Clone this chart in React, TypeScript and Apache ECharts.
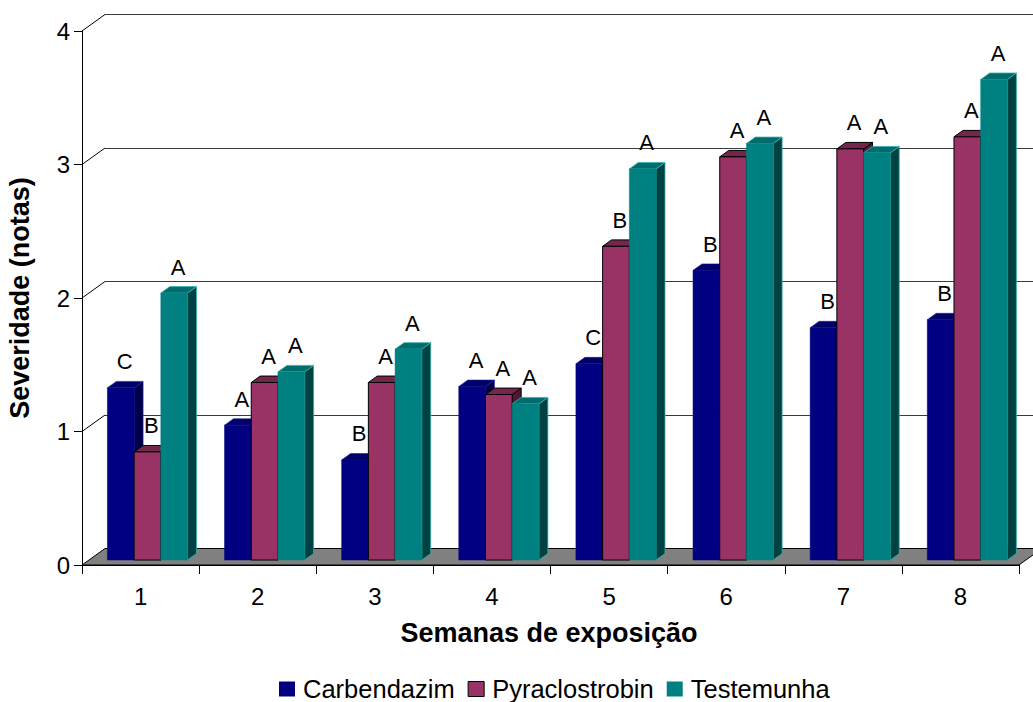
import React, { useEffect, useRef } from "react";
import * as echarts from "echarts";

// Weekly disease severity scores per treatment, with mean-separation letters
const weeks = ["1", "2", "3", "4", "5", "6", "7", "8"];
const carbendazim = [1.29, 1.01, 0.75, 1.3, 1.47, 2.17, 1.74, 1.8];
const pyraclostrobin = [0.81, 1.33, 1.33, 1.24, 2.35, 3.02, 3.08, 3.17];
const testemunha = [2.0, 1.41, 1.58, 1.17, 2.93, 3.12, 3.05, 3.6];
const carbendazimLetters = ["C", "A", "B", "A", "C", "B", "B", "B"];
const pyraclostrobinLetters = ["B", "A", "A", "A", "B", "A", "A", "A"];
const testemunhaLetters = ["A", "A", "A", "A", "A", "A", "A", "A"];
const yTicks = [0, 1, 2, 3, 4];
const seriesNames = ["Carbendazim", "Pyraclostrobin", "Testemunha"];

const FONT = "'Liberation Sans', Arial, Helvetica, sans-serif";

// 3D projection: full depth of the plot box, plane of the bars, bar thickness
const DX = 23;
const DY = -16.5;
const BAR_PLANE = 0.3;
const BAR_DEPTH = 0.39;
const BAR_FRACTION = 0.228;

type Palette = { front: string; top: string; side: string; stroke: string; strokeWidth: number };

const palettes: Palette[] = [
  { front: "#000080", top: "#000068", side: "#00004a", stroke: "#1c1c9a", strokeWidth: 0.6 },
  { front: "#993366", top: "#74264d", side: "#4c1a33", stroke: "#000000", strokeWidth: 1 },
  { front: "#008080", top: "#006c6c", side: "#004242", stroke: "#36b0b0", strokeWidth: 0.8 },
];

function makeBarRenderer(k: number) {
  const pal = palettes[k];
  return (params: any, api: any) => {
    const i = api.value(0);
    const v = api.value(1);
    const letter = api.value(2);
    const top = api.coord([i, v]);
    const base = api.coord([i, 0]);
    const band = api.size([1, 0])[0];
    const w = band * BAR_FRACTION;
    const x0 = top[0] + DX * BAR_PLANE + (k - 1.5) * w;
    const x1 = x0 + w;
    const yt = top[1] + DY * BAR_PLANE;
    const yb = base[1] + DY * BAR_PLANE;
    const bx = DX * BAR_DEPTH;
    const by = DY * BAR_DEPTH;
    return {
      type: "group",
      children: [
        {
          type: "polygon",
          shape: { points: [[x1, yt], [x1 + bx, yt + by], [x1 + bx, yb + by], [x1, yb]] },
          style: { fill: pal.side, stroke: pal.stroke, lineWidth: pal.strokeWidth },
        },
        {
          type: "polygon",
          shape: { points: [[x0, yt], [x1, yt], [x1 + bx, yt + by], [x0 + bx, yt + by]] },
          style: { fill: pal.top, stroke: pal.stroke, lineWidth: pal.strokeWidth },
        },
        {
          type: "rect",
          shape: { x: x0, y: yt, width: w, height: yb - yt },
          style: { fill: pal.front, stroke: k === 1 ? "#000" : pal.front, lineWidth: k === 1 ? 1 : 0.5 },
        },
        {
          type: "text",
          style: {
            text: String(letter),
            x: (x0 + x1) / 2 + 4,
            y: yt - 26,
            align: "center",
            verticalAlign: "middle",
            fontSize: 22,
            fontFamily: FONT,
            fill: "#000",
          },
        },
      ],
    };
  };
}

// Floor slab and the diagonal edges linking the front axis to the back wall
function frameRenderer(params: any, api: any) {
  const v = api.value(0);
  const cs = params.coordSys;
  const y = api.coord([0, v])[1];
  if (v === 0) {
    return {
      type: "polygon",
      shape: {
        points: [
          [cs.x, y],
          [cs.x + cs.width, y],
          [cs.x + cs.width + DX, y + DY],
          [cs.x + DX, y + DY],
        ],
      },
      style: { fill: "#808080", stroke: "#000", lineWidth: 1 },
    };
  }
  return {
    type: "line",
    shape: { x1: cs.x, y1: y, x2: cs.x + DX, y2: y + DY },
    style: { stroke: "#000", lineWidth: 1 },
  };
}

const values = [carbendazim, pyraclostrobin, testemunha];
const letters = [carbendazimLetters, pyraclostrobinLetters, testemunhaLetters];

export default function App() {
  const ref = useRef<HTMLDivElement>(null);

  useEffect(() => {
    if (!ref.current) return;
    const chart = echarts.init(ref.current, undefined, { renderer: "svg" });

    const barSeries = seriesNames.map((name, k) => ({
      name,
      type: "custom",
      xAxisIndex: 0,
      yAxisIndex: 0,
      renderItem: makeBarRenderer(k),
      itemStyle: {
        color: palettes[k].front,
        borderColor: k === 1 ? "#000" : palettes[k].front,
        borderWidth: k === 1 ? 1 : 0,
      },
      encode: { x: 0, y: 1 },
      data: values[k].map((v, i) => [i, v, letters[k][i]]),
      z: 3,
    }));

    chart.setOption({
      animation: false,
      backgroundColor: "#fff",
      grid: [
        { left: 82, top: 31, width: 937, height: 534 },
        { left: 82 + DX, top: 31 + DY, width: 937, height: 534 },
      ],
      xAxis: [
        {
          type: "category",
          gridIndex: 0,
          data: weeks,
          boundaryGap: true,
          axisLine: { lineStyle: { color: "#000", width: 1 } },
          axisTick: { show: true, length: 9, lineStyle: { color: "#000" } },
          axisLabel: { color: "#000", fontSize: 24, fontFamily: FONT, margin: 19 },
          splitLine: { show: false },
        },
        { type: "category", gridIndex: 1, data: weeks, show: false },
      ],
      yAxis: [
        {
          type: "value",
          gridIndex: 0,
          min: 0,
          max: 4,
          interval: 1,
          axisLine: { show: true, lineStyle: { color: "#000", width: 1 } },
          axisTick: { show: true, length: 8, lineStyle: { color: "#000" } },
          axisLabel: { color: "#000", fontSize: 24, fontFamily: FONT, margin: 12 },
          splitLine: { show: false },
        },
        {
          type: "value",
          gridIndex: 1,
          min: 0,
          max: 4,
          interval: 1,
          axisLine: { show: false },
          axisTick: { show: false },
          axisLabel: { show: false },
          splitLine: { show: true, lineStyle: { color: "#3a3a3a", width: 1 } },
        },
      ],
      legend: {
        data: seriesNames.map((name, k) => ({
          name,
          itemStyle: {
            color: palettes[k].front,
            borderColor: k === 1 ? "#000" : palettes[k].front,
            borderWidth: k === 1 ? 1 : 0,
          },
        })),
        icon: "rect",
        left: 279,
        top: 676,
        padding: 0,
        itemWidth: 16,
        itemHeight: 15,
        itemGap: 13,
        textStyle: { color: "#000", fontSize: 25.5, fontFamily: FONT, padding: [0, 0, 0, 3] },
        selectedMode: false,
      },
      graphic: [
        {
          type: "text",
          x: 549,
          y: 633,
          style: {
            text: "Semanas de exposição",
            align: "center",
            verticalAlign: "middle",
            fontSize: 27,
            fontWeight: "bold",
            fontFamily: FONT,
            fill: "#000",
          },
        },
        {
          type: "text",
          x: 20,
          y: 298,
          rotation: Math.PI / 2,
          style: {
            text: "Severidade (notas)",
            align: "center",
            verticalAlign: "middle",
            fontSize: 27,
            fontWeight: "bold",
            fontFamily: FONT,
            fill: "#000",
          },
        },
      ],
      series: [
        {
          name: "frame",
          type: "custom",
          xAxisIndex: 0,
          yAxisIndex: 0,
          renderItem: frameRenderer,
          encode: { y: 0 },
          data: yTicks.map((t) => [t]),
          silent: true,
          z: 2,
        },
        ...barSeries,
      ],
    });

    return () => chart.dispose();
  }, []);

  return (
    <div
      ref={ref}
      style={{ position: "fixed", left: 0, top: 0, width: 1033, height: 702, background: "#fff" }}
    />
  );
}
